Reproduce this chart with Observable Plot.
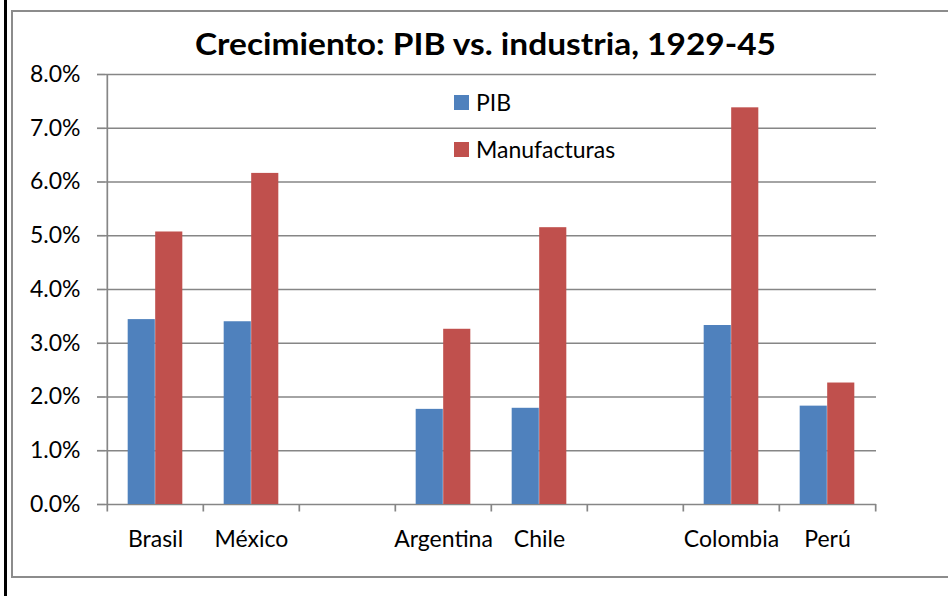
<!DOCTYPE html>
<html>
<head>
<meta charset="utf-8">
<script src="https://cdn.jsdelivr.net/npm/d3@7"></script>
<script src="https://cdn.jsdelivr.net/npm/@observablehq/plot@0.6"></script>
<style>
  html, body { margin: 0; padding: 0; background: #fff; overflow: hidden; }
  #chart { width: 948px; height: 596px; }
</style>
</head>
<body>
<div id="chart"></div>
<script>
// ---- data ----
const xDomain = ["Brasil", "México", "gap1", "Argentina", "Chile", "gap2", "Colombia", "Perú"];
const countries = ["Brasil", "México", "Argentina", "Chile", "Colombia", "Perú"];
const pib = [3.44, 3.40, 1.77, 1.79, 3.33, 1.83];
const manufacturas = [5.07, 6.16, 3.26, 5.15, 7.38, 2.26];
const yTicks = [0, 1, 2, 3, 4, 5, 6, 7, 8];
const seriesNames = ["PIB", "Manufacturas"];
const seriesColors = ["#4F81BD", "#C0504D"];
const titleText = "Crecimiento: PIB vs. industria, 1929-45";

// ---- layout ----
const W = 948, H = 596, mL = 105, mR = 72, mT = 74, mB = 92;
const bw = (W - mL - mR) / xDomain.length;
const barW = 27.5;
const gray = "#868686";

const pibData = countries.map((c, i) => ({country: c, value: pib[i]}));
const manData = countries.map((c, i) => ({country: c, value: manufacturas[i]}));

const chart = Plot.plot({
  width: W, height: H,
  marginLeft: mL, marginRight: mR, marginTop: mT, marginBottom: mB,
  style: {fontFamily: "Lato", fontSize: "23px", color: "#000", background: "transparent", overflow: "visible"},
  x: {type: "band", domain: xDomain, padding: 0, axis: null},
  y: {domain: [0, 8], axis: null},
  marks: [
    Plot.gridY(yTicks, {stroke: gray, strokeOpacity: 1, strokeWidth: 1.7}),
    Plot.axisY(yTicks, {
      tickSize: 8, tickPadding: 17, stroke: gray, strokeWidth: 1.7, fill: "#000",
      tickFormat: d => d.toFixed(1) + "%", fontSize: 23, label: null
    }),
    Plot.barY(pibData, {x: "country", y: "value", fill: seriesColors[0],
      insetLeft: bw / 2 - barW, insetRight: bw / 2}),
    Plot.barY(manData, {x: "country", y: "value", fill: seriesColors[1],
      insetLeft: bw / 2, insetRight: bw / 2 - barW}),
    // left axis line
    Plot.ruleX([xDomain[0]], {x: d => d, dx: -bw / 2, y1: 8, y2: 0, insetBottom: -7.5, stroke: gray, strokeWidth: 1.7}),
    // category boundary ticks
    Plot.ruleX(xDomain.slice(1), {x: d => d, dx: -bw / 2, y1: 0, y2: 0, insetBottom: -7.5, stroke: gray, strokeWidth: 1.7}),
    Plot.ruleX([xDomain[xDomain.length - 1]], {x: d => d, dx: bw / 2, y1: 0, y2: 0, insetBottom: -7.5, stroke: gray, strokeWidth: 1.7}),
    Plot.axisX(countries, {tickSize: 0, tickPadding: 26, fontSize: 23, fill: "#000", label: null})
  ]
});

document.getElementById("chart").appendChild(chart);

// ---- decorations: frame, title, legend ----
const svg = d3.select(chart);
svg.append("rect").attr("x", 12).attr("y", 11).attr("width", 960).attr("height", 566)
  .attr("fill", "none").attr("stroke", "#8c8c8c").attr("stroke-width", 2);
svg.append("rect").attr("x", 4).attr("y", 0).attr("width", 3).attr("height", H).attr("fill", "#000");

svg.append("text").text(titleText)
  .attr("x", 485.5).attr("y", 55)
  .attr("text-anchor", "middle")
  .attr("font-family", "Lato").attr("font-weight", "bold").attr("font-size", 31)
  .attr("textLength", 581).attr("lengthAdjust", "spacingAndGlyphs")
  .attr("fill", "#000");

const legendY = [95, 142];
seriesNames.forEach((name, i) => {
  svg.append("rect").attr("x", 454).attr("y", legendY[i]).attr("width", 15).attr("height", 15)
    .attr("fill", seriesColors[i]);
  svg.append("text").text(name).attr("x", 476).attr("y", legendY[i] + 15.5)
    .attr("text-anchor", "start")
    .attr("font-family", "Lato").attr("font-size", 23).attr("fill", "#000");
});
</script>
</body>
</html>
